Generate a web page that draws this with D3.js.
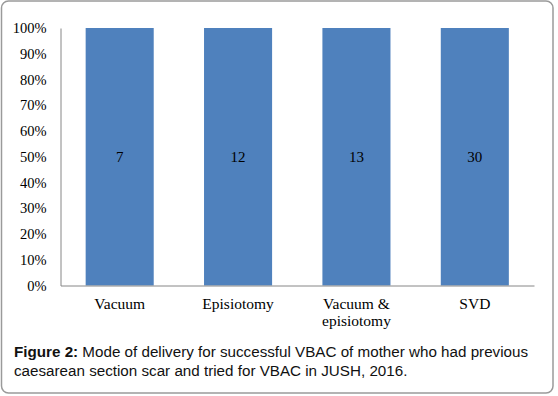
<!DOCTYPE html>
<html>
<head>
<meta charset="utf-8">
<script src="https://cdn.jsdelivr.net/npm/d3@7"></script>
<style>
  html, body { margin: 0; padding: 0; background: #fff; }
  svg { display: block; }
</style>
</head>
<body>
<div id="chart"></div>
<script>
// data
const categories = ['Vacuum', 'Episiotomy', 'Vacuum & episiotomy', 'SVD']
const counts = [7, 12, 13, 30]          // number of mothers, shown inside bars
const shares = [100, 100, 100, 100]     // percent of each (100% stacked) bar
const yTicks = [0, 10, 20, 30, 40, 50, 60, 70, 80, 90, 100]
const captionBold = 'Figure 2:'
const captionLines = [
  ' Mode of delivery for successful VBAC of mother who had previous',
  'caesarean section scar and tried for VBAC in JUSH, 2016.'
]

const width = 558
const height = 396
const plot = { left: 60.5, right: 534, top: 28, bottom: 285.5 }
const serif = '"Liberation Serif", "Times New Roman", serif'

const svg = d3.select('#chart').append('svg')
  .attr('width', width).attr('height', height)

// outer frame
svg.append('rect')
  .attr('x', 1.5).attr('y', 1).attr('width', 551.5).attr('height', 392)
  .attr('rx', 7).attr('fill', '#fff')
  .attr('stroke', '#9a9a9a').attr('stroke-width', 1.5)

const x = d3.scaleBand().domain(categories)
  .range([plot.left, plot.right])
  .paddingInner(0.425).paddingOuter(0.2125)

const y = d3.scaleLinear().domain([0, 100]).range([plot.bottom, plot.top])

// bars
svg.append('g').selectAll('rect').data(categories).join('rect')
  .attr('x', d => x(d))
  .attr('y', (d, i) => y(shares[i]))
  .attr('width', x.bandwidth())
  .attr('height', (d, i) => y(0) - y(shares[i]))
  .attr('fill', '#4f81bd')

// count labels in the middle of each bar
svg.append('g').selectAll('text').data(categories).join('text')
  .attr('x', d => x(d) + x.bandwidth() / 2)
  .attr('y', (d, i) => y(shares[i] / 2))
  .attr('dy', '0.35em')
  .attr('text-anchor', 'middle')
  .style('font-family', serif)
  .style('font-size', '15px')
  .attr('fill', '#000')
  .text((d, i) => counts[i])

// y axis
svg.append('g')
  .attr('transform', `translate(${plot.left},0)`)
  .call(d3.axisLeft(y).tickValues(yTicks).tickSize(0).tickPadding(14).tickFormat(d => d + '%'))
  .call(g => g.select('.domain').attr('stroke', '#868686'))
  .call(g => g.selectAll('text').style('font-family', serif).style('font-size', '14.5px').attr('fill', '#000'))

// x axis
const xAxis = svg.append('g')
  .attr('transform', `translate(0,${plot.bottom})`)
  .call(d3.axisBottom(x).tickSize(0).tickPadding(12).tickSizeOuter(0))
xAxis.select('.domain').attr('stroke', '#868686')
xAxis.selectAll('text').style('font-family', serif).style('font-size', '15.5px').attr('fill', '#000')

// wrap long category names onto two lines
xAxis.selectAll('.tick text').each(function (d) {
  const t = d3.select(this)
  const words = d.split(' ')
  if (words.length < 3) return
  const lines = [words.slice(0, 2).join(' '), words.slice(2).join(' ')]
  const y0 = t.attr('y')
  t.text(null)
  lines.forEach((ln, i) => {
    t.append('tspan').attr('x', 0).attr('y', y0).attr('dy', (0.71 + i * 1.1) + 'em').text(ln)
  })
})

// caption
const cap = svg.append('g')
  .style('font-family', '"Liberation Sans", Arial, sans-serif')
  .style('font-size', '15.2px')
  .attr('fill', '#111')

const l1 = cap.append('text').attr('x', 14).attr('y', 357)
l1.append('tspan').style('font-weight', 'bold').text(captionBold)
l1.append('tspan').text(captionLines[0])
cap.append('text').attr('x', 14).attr('y', 376).text(captionLines[1])
</script>
</body>
</html>
